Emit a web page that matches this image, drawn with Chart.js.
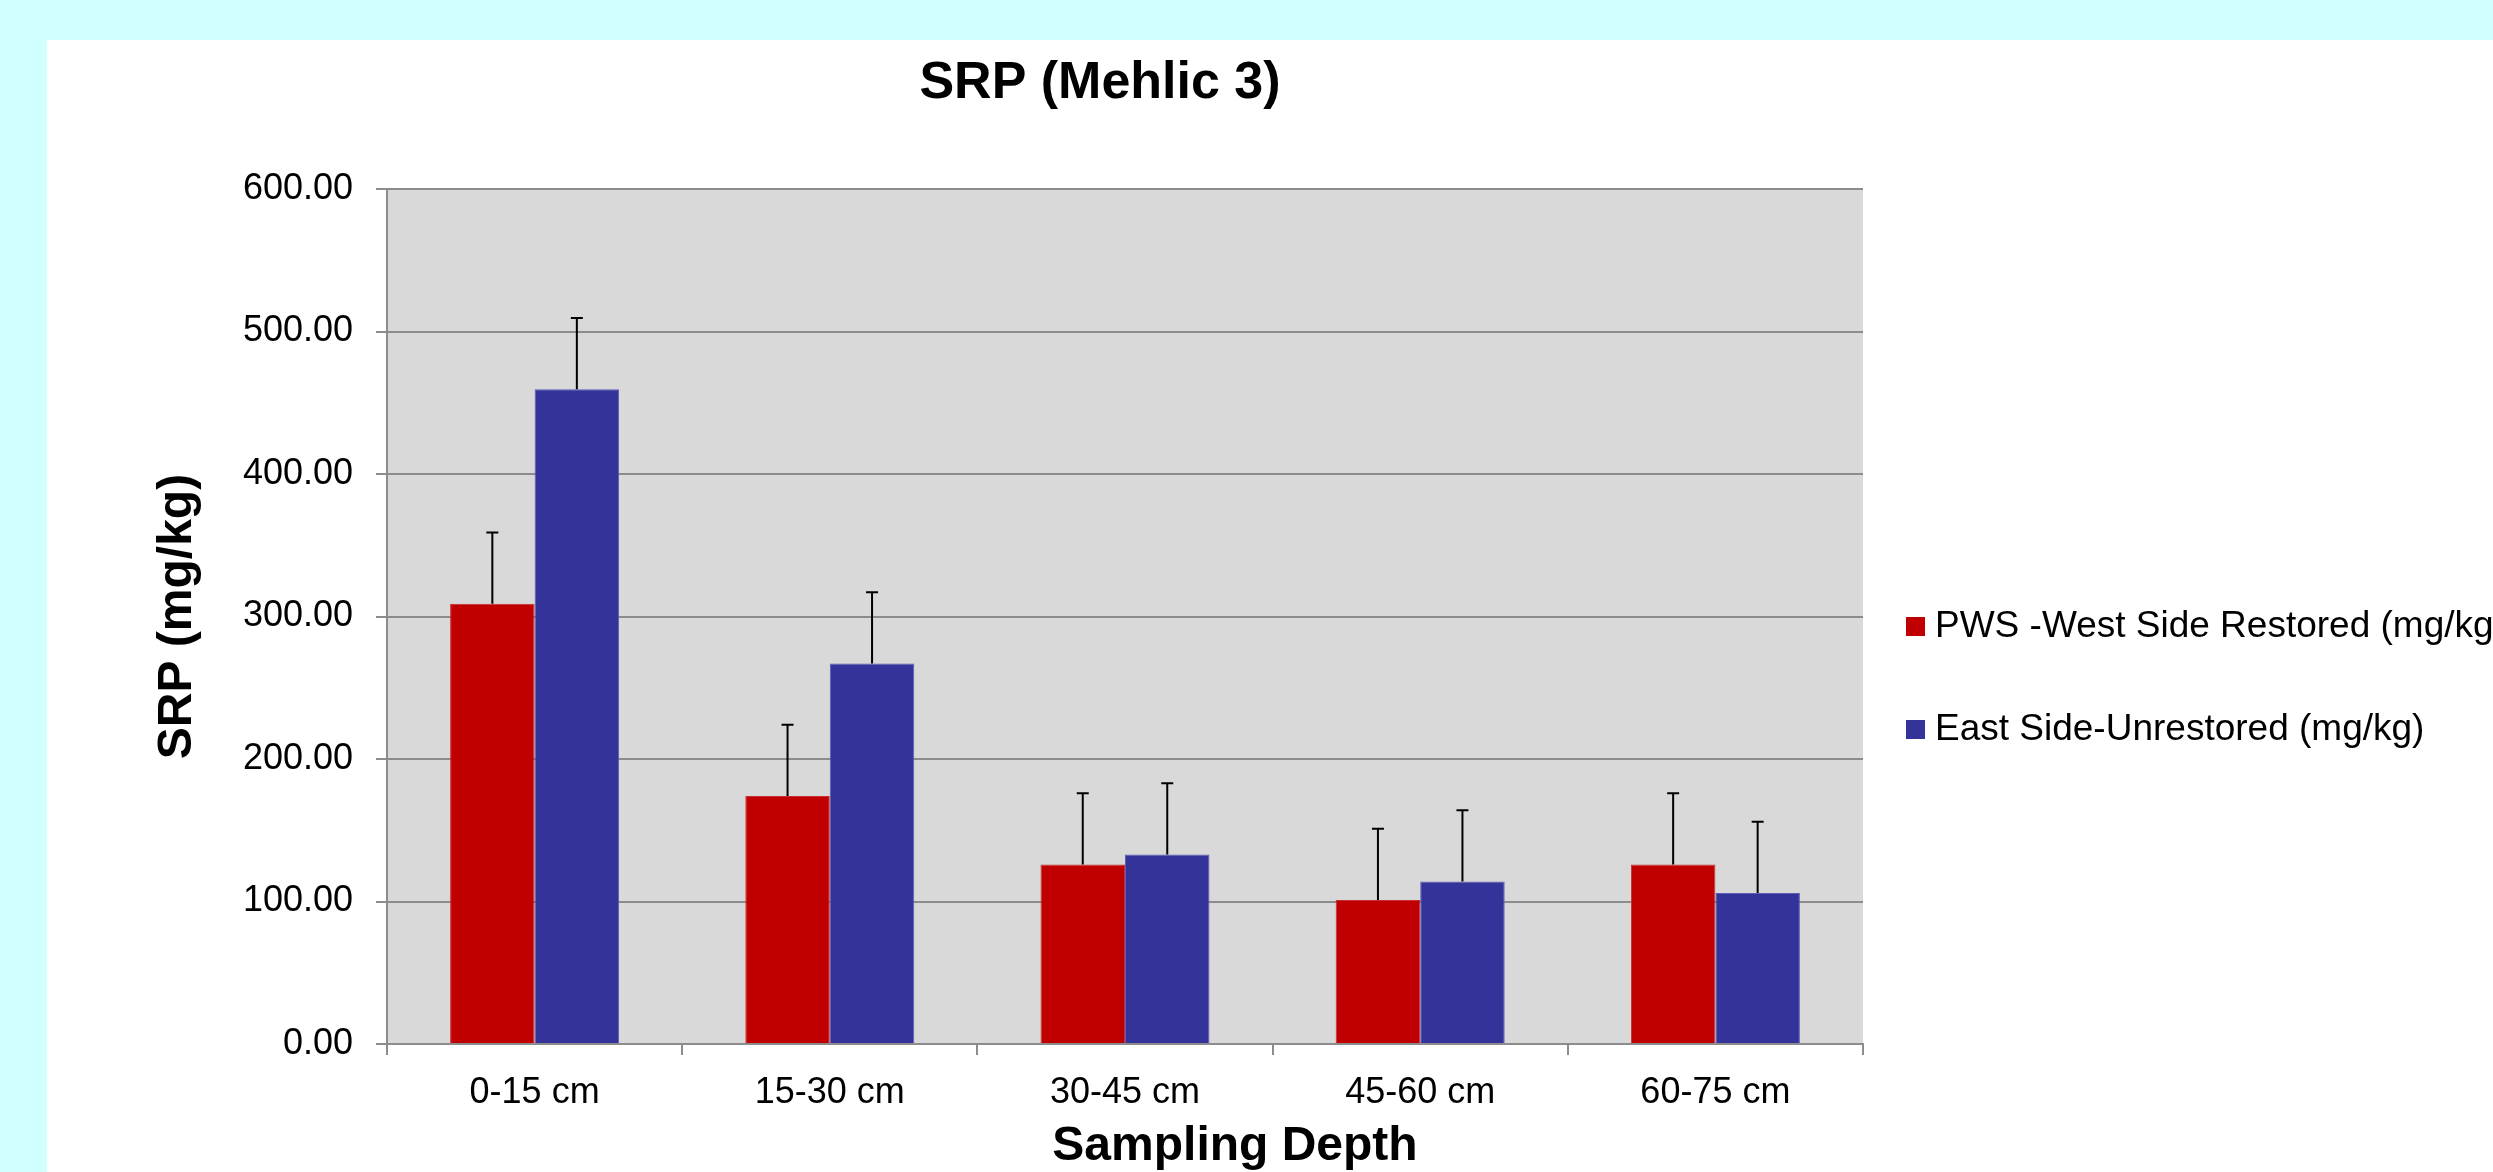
<!DOCTYPE html>
<html><head><meta charset="utf-8">
<script src="https://cdn.jsdelivr.net/npm/chart.js@4.4.1/dist/chart.umd.min.js"></script>
<style>
html,body{margin:0;padding:0;width:2493px;height:1172px;overflow:hidden;background:#cfffff;}
#panel{position:absolute;left:47px;top:40px;width:2446px;height:1132px;background:#fff;overflow:hidden;}
canvas{display:block;}
</style></head><body>
<div id="panel"><canvas id="c" width="2446" height="1132"></canvas></div>
<script>
const categories = ['0-15 cm','15-30 cm','30-45 cm','45-60 cm','60-75 cm'];
const westRestored = [309, 174, 126, 101, 126];
const eastUnrestored = [459.5, 267, 133, 114, 106];
const westError = [50, 50, 50, 50, 50];
const eastError = [50, 50, 50, 50, 50];
const yTicks = [0, 100, 200, 300, 400, 500, 600];
const seriesNames = ['PWS -West Side Restored (mg/kg)', 'East Side-Unrestored (mg/kg)'];
const seriesColors = ['#C00000', '#333399'];
const chartTitle = 'SRP (Mehlic 3)';
const xTitle = 'Sampling Depth';
const yTitle = 'SRP (mg/kg)';
const errors = [westError, eastError];

const FONT = '"Liberation Sans", Arial, Helvetica, sans-serif';

const plotBg = {
  id: 'plotBg',
  beforeDraw(chart) {
    const {ctx, chartArea: a} = chart;
    ctx.save();
    ctx.fillStyle = '#D9D9D9';
    ctx.fillRect(a.left, a.top, a.right - a.left, a.bottom - a.top);
    ctx.restore();
  }
};

const errorBars = {
  id: 'errorBars',
  afterDatasetsDraw(chart) {
    const ctx = chart.ctx, y = chart.scales.y;
    chart.data.datasets.forEach((ds, di) => {
      const meta = chart.getDatasetMeta(di);
      meta.data.forEach((bar, i) => {
        const base = y.getPixelForValue(ds.data[i]);
        const top = y.getPixelForValue(ds.data[i] + errors[di][i]);
        ctx.save();
        ctx.strokeStyle = '#000';
        ctx.lineWidth = 2;
        ctx.beginPath();
        ctx.moveTo(bar.x, base);
        ctx.lineTo(bar.x, top);
        ctx.moveTo(bar.x - 6, top);
        ctx.lineTo(bar.x + 6, top);
        ctx.stroke();
        ctx.restore();
      });
    });
  }
};

const texts = {
  id: 'texts',
  afterDraw(chart) {
    const ctx = chart.ctx;
    ctx.save();
    ctx.fillStyle = '#000';
    ctx.textAlign = 'center';
    ctx.textBaseline = 'middle';
    ctx.font = 'bold 52px ' + FONT;
    ctx.fillText(chartTitle, 1053, 44);
    ctx.font = 'bold 48px ' + FONT;
    ctx.fillText(xTitle, 1188, 1107);
    // legend
    ctx.textAlign = 'left';
    ctx.font = '37px ' + FONT;
    chart.data.datasets.forEach((ds, i) => {
      const cy = 587 + i * 103;
      ctx.fillStyle = ds.backgroundColor;
      ctx.fillRect(1859, cy - 10, 19, 19);
      ctx.fillStyle = '#000';
      ctx.fillText(ds.label, 1888, cy);
    });
    ctx.restore();
  }
};

new Chart(document.getElementById('c'), {
  type: 'bar',
  data: {
    labels: categories,
    datasets: [
      { label: seriesNames[0], data: westRestored, backgroundColor: seriesColors[0], borderColor: '#C83030', borderWidth: 1 },
      { label: seriesNames[1], data: eastUnrestored, backgroundColor: seriesColors[1], borderColor: '#5C5CB8', borderWidth: 1 }
    ]
  },
  options: {
    responsive: false,
    animation: false,
    devicePixelRatio: 1,
    layout: { padding: { top: 149, left: 0, right: 630, bottom: 0 } },
    datasets: { bar: { categoryPercentage: 0.5725, barPercentage: 1.0 } },
    plugins: {
      legend: { display: false },
      title: { display: false },
      tooltip: { enabled: false }
    },
    scales: {
      x: {
        afterFit(s) { s.height = 128; },
        grid: { drawOnChartArea: false, drawTicks: true, tickLength: 11, color: '#8C8C8C', lineWidth: 2, offset: true },
        border: { display: true, color: '#8C8C8C', width: 2 },
        ticks: { color: '#000', font: { family: FONT, size: 36 }, padding: 16, maxRotation: 0 }
      },
      y: {
        min: 0, max: 600,
        afterFit(s) { s.width = 340; },
        afterBuildTicks(s) { s.ticks = yTicks.map(v => ({ value: v })); },
        grid: { color: '#8C8C8C', lineWidth: 2, tickLength: 11, drawTicks: true },
        border: { display: true, color: '#8C8C8C', width: 2 },
        ticks: { color: '#000', font: { family: FONT, size: 36 }, padding: 23, callback: v => Number(v).toFixed(2) },
        title: { display: true, text: yTitle, color: '#000', font: { family: FONT, size: 48, weight: 'bold' }, padding: { top: 102, bottom: 0 } }
      }
    }
  },
  plugins: [plotBg, errorBars, texts]
});
</script>
</body></html>
